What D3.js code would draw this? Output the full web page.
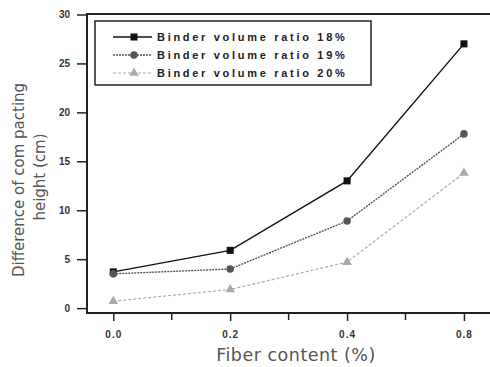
<!DOCTYPE html>
<html>
<head>
<meta charset="utf-8">
<script src="https://cdn.jsdelivr.net/npm/d3@7"></script>
<style>
  body { margin: 0; background: #fff; }
  text { font-family: "Liberation Sans", Arial, sans-serif; }
</style>
</head>
<body>
<div id="chart"></div>
<script>
// chart data
const fiber = [0.0, 0.2, 0.4, 0.6]
const ratio18 = [3.7, 5.9, 13, 27]
const ratio19 = [3.5, 4.0, 8.9, 17.8]
const ratio20 = [0.7, 1.9, 4.7, 13.8]
const seriesNames = ['Binder volume ratio 18%', 'Binder volume ratio 19%', 'Binder volume ratio 20%']
const yTicks = [0, 5, 10, 15, 20, 25, 30]
const xTicks = [0.0, 0.2, 0.4, 0.6]
const xTickLabels = ['0.0', '0.2', '0.4', '0.8']
const xMinor = [0.1, 0.3, 0.5]

const width = 490,
  height = 367

const plot = { left: 87, top: 14, right: 492, bottom: 313 }

let svg = d3.select('#chart')
  .append('svg')
  .attr('width', width)
  .attr('height', height)

let xScale = d3.scaleLinear()
  .domain([-0.045, 0.648])
  .range([plot.left, plot.right])

let yScale = d3.scaleLinear()
  .domain([-0.5, 30.05])
  .range([plot.bottom, plot.top])

// frame
svg.append('rect')
  .attr('x', plot.left)
  .attr('y', plot.top)
  .attr('width', plot.right - plot.left)
  .attr('height', plot.bottom - plot.top)
  .attr('fill', 'none')
  .attr('stroke', '#222')
  .attr('stroke-width', 2)

// y axis
let y_axis = d3.axisLeft(yScale)
  .tickValues(yTicks)
  .tickSize(9)
  .tickPadding(7)
  .tickFormat(d3.format('d'))

let gy = svg.append('g')
  .attr('transform', `translate(${plot.left - 1},0)`)
  .call(y_axis)
gy.select('.domain').remove()
gy.selectAll('line').attr('stroke', '#222').attr('stroke-width', 1.5)
gy.selectAll('text')
  .attr('font-size', 10)
  .attr('font-weight', 'bold')
  .attr('fill', '#333')

// x axis
let x_axis = d3.axisBottom(xScale)
  .tickValues(xTicks)
  .tickSize(7)
  .tickPadding(10)
  .tickFormat((d, i) => xTickLabels[i])

let gx = svg.append('g')
  .attr('transform', `translate(0,${plot.bottom + 1})`)
  .call(x_axis)
gx.select('.domain').remove()
gx.selectAll('line').attr('stroke', '#222').attr('stroke-width', 1.5)
gx.selectAll('text')
  .attr('font-size', 10)
  .attr('font-weight', 'bold')
  .attr('fill', '#333')
  .attr('letter-spacing', 1)

svg.append('g')
  .selectAll('line')
  .data(xMinor)
  .enter()
  .append('line')
  .attr('x1', d => xScale(d))
  .attr('x2', d => xScale(d))
  .attr('y1', plot.bottom)
  .attr('y2', plot.bottom + 7)
  .attr('stroke', '#222')
  .attr('stroke-width', 1.5)

// axis titles (style so the css rule does not win)
svg.append('text')
  .attr('transform', 'translate(24,180) rotate(-90)')
  .attr('text-anchor', 'middle')
  .style('font-family', '"DejaVu Sans"')
  .attr('font-size', 15)
  .attr('fill', '#555')
  .text('Difference of com pacting')

svg.append('text')
  .attr('transform', 'translate(45,177) rotate(-90)')
  .attr('text-anchor', 'middle')
  .style('font-family', '"DejaVu Sans"')
  .attr('font-size', 15)
  .attr('fill', '#555')
  .text('height (cm)')

svg.append('text')
  .attr('x', 296)
  .attr('y', 361)
  .attr('text-anchor', 'middle')
  .style('font-family', '"DejaVu Sans"')
  .attr('font-size', 17.5)
  .attr('fill', '#555')
  .attr('letter-spacing', 0.5)
  .text('Fiber content (%)')

// series
const series = [
  { values: ratio18, color: '#111', width: 1.4, dash: null, marker: 'square' },
  { values: ratio19, color: '#555', width: 1.4, dash: '2,1', marker: 'circle' },
  { values: ratio20, color: '#aaa', width: 1.2, dash: '3,2', marker: 'triangle' }
]

const symbolType = { square: d3.symbolSquare, circle: d3.symbolCircle, triangle: d3.symbolTriangle }
const symbolSize = { square: 50, circle: 45, triangle: 40 }

let line = d3.line()
  .x((d, i) => xScale(fiber[i]))
  .y(d => yScale(d))

series.forEach(s => {
  svg.append('path')
    .datum(s.values)
    .attr('d', line)
    .attr('fill', 'none')
    .attr('stroke', s.color)
    .attr('stroke-width', s.width)
    .attr('stroke-dasharray', s.dash)

  svg.append('g')
    .selectAll('path')
    .data(s.values)
    .enter()
    .append('path')
    .attr('transform', (d, i) => `translate(${xScale(fiber[i])},${yScale(d)})`)
    .attr('d', d3.symbol().type(symbolType[s.marker]).size(symbolSize[s.marker]))
    .attr('fill', s.color)
})

// legend
let legend = svg.append('g')
svg.append('rect')
  .attr('x', 95)
  .attr('y', 21)
  .attr('width', 276)
  .attr('height', 64)
  .attr('fill', '#fff')
  .attr('stroke', '#222')
  .attr('stroke-width', 1.5)
  .lower()

series.forEach((s, i) => {
  let ly = 37 + i * 18
  legend.append('line')
    .attr('x1', 113)
    .attr('x2', 152)
    .attr('y1', ly)
    .attr('y2', ly)
    .attr('stroke', s.color)
    .attr('stroke-width', s.width)
    .attr('stroke-dasharray', s.dash)
  legend.append('path')
    .attr('transform', `translate(134,${ly})`)
    .attr('d', d3.symbol().type(symbolType[s.marker]).size(symbolSize[s.marker]))
    .attr('fill', s.color)
  legend.append('text')
    .attr('x', 157)
    .attr('y', ly + 4)
    .attr('font-size', 11)
    .attr('font-weight', 'bold')
    .attr('letter-spacing', 2.7)
    .attr('fill', '#222')
    .text(seriesNames[i])
})
</script>
</body>
</html>
